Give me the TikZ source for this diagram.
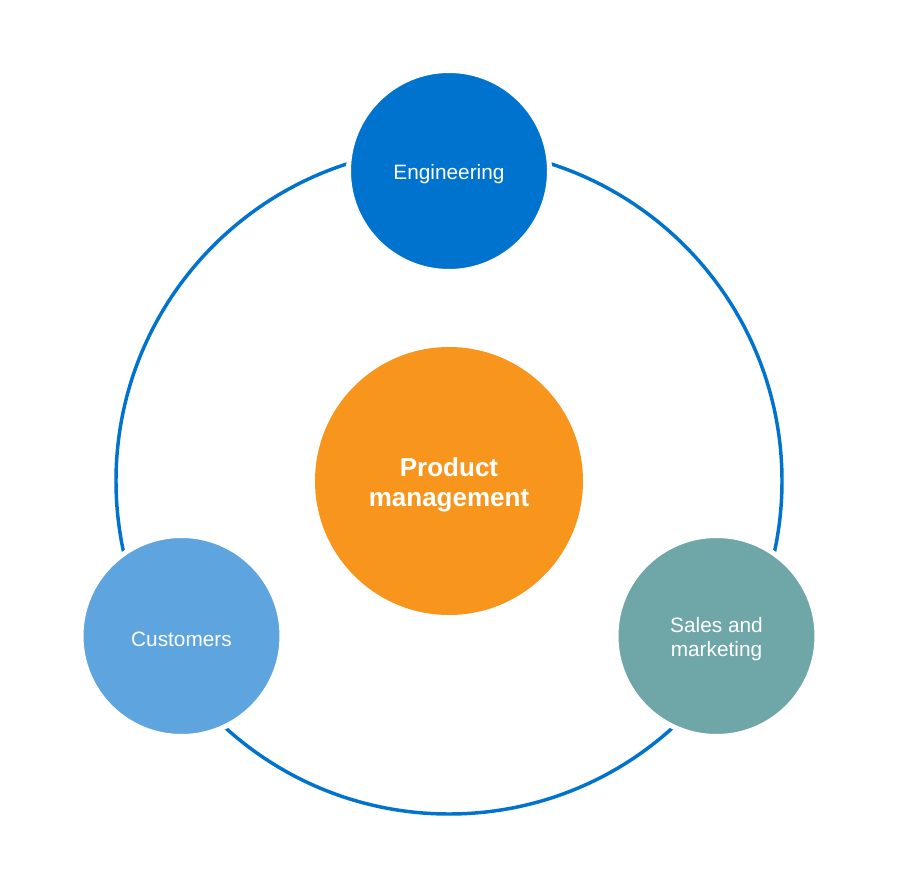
\documentclass[tikz,border=0pt]{standalone}
\usepackage{fontspec}
\setmainfont{Liberation Sans}
\usetikzlibrary{calc}
\definecolor{ringblue}{HTML}{0073CF}
\definecolor{engblue}{HTML}{0073CF}
\definecolor{custblue}{HTML}{5EA5E0}
\definecolor{salesteal}{HTML}{6FA7A9}
\definecolor{pmorange}{HTML}{F8951D}
\tikzset{
    bubble/.style= {shape=circle,minimum size=150.75pt,inner sep=0,draw=white,line width=3.75pt},
    bubbletext/.style= {text=white,align=center,yshift=-2.25pt,font=\fontsize{15.6}{18.3}\selectfont},
    hub/.style= {shape=circle,minimum size=201pt,inner sep=0,fill=pmorange},
    hubtext/.style= {text=white,align=center,yshift=-3pt,font=\fontsize{19.5}{22.5}\selectfont\bfseries},
    ring/.style= {draw=ringblue,line width=2.6pt}
}
\begin{document}
\begin{tikzpicture}[x=0.75pt,y=-0.75pt]
    \useasboundingbox (0,0) rectangle (897,891);
    \coordinate (c0) at (449,481);

    % outer loop, broken by the three bubbles
    \draw[ring] (c0) circle[radius=249.75pt];

    \node[hub,label={[hubtext]center:Product\\management}] (pm) at (c0) {};
    \node[bubble,fill=engblue,label={[bubbletext]center:Engineering}] (eng) at (449,171) {};
    \node[bubble,fill=custblue,label={[bubbletext]center:Customers}] (cust) at (181.5,636) {};
    \node[bubble,fill=salesteal,label={[bubbletext]center:Sales and\\marketing}] (sales) at (716.5,636) {};
\end{tikzpicture}
\end{document}
